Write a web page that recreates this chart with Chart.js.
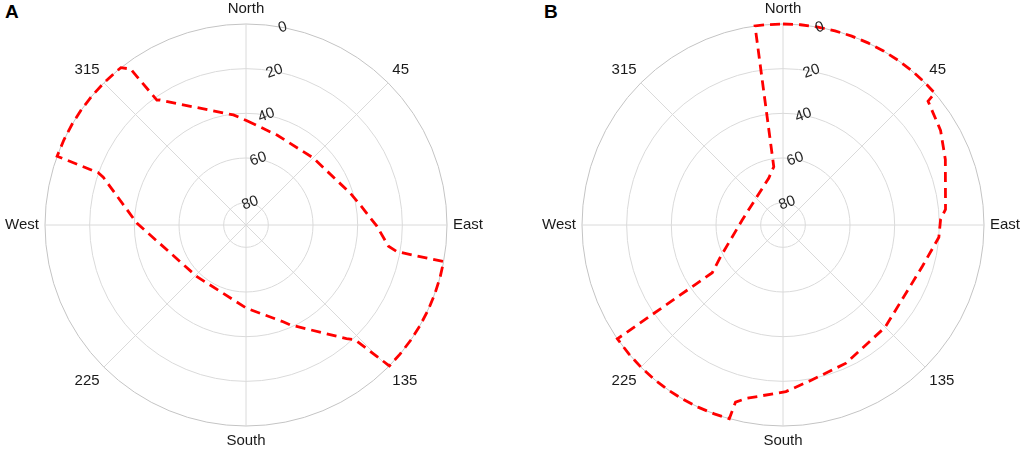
<!DOCTYPE html>
<html>
<head>
<meta charset="utf-8">
<script src="https://cdn.jsdelivr.net/npm/chart.js@4/dist/chart.umd.min.js"></script>
<style>
    html, body { margin: 0; padding: 0; background: #fff; overflow: hidden; }
    body { width: 1024px; height: 451px; position: relative; }
    .panel { position: absolute; top: 0; width: 534px; height: 451px; }
    .tag { position: absolute; top: 1px; font: bold 19px "Liberation Sans", Arial, sans-serif; color: #000; }
</style>
</head>
<body>
<div class="tag" style="left:5px">A</div>
<div class="tag" style="left:544px">B</div>
<div class="panel" style="left:-21px"><canvas id="chartA"></canvas></div>
<div class="panel" style="left:516px"><canvas id="chartB"></canvas></div>
<script>
// compass labels every 45 deg, radial ticks = elevation (0 at rim, 90 at centre)
var compassLabels = ['North', '45', 'East', '135', 'South', '225', 'West', '315'];
var radialTicks = [0, 20, 40, 60, 80];

// panel A: vertices of the dashed mask (azimuth deg, elevation deg)
var azimuthA = [0.5, 19, 45, 73, 80, 90.5, 98.5, 100, 100.5, 105, 110, 115, 120, 125, 130, 134.5,
    136.5, 138.5, 156, 159, 179.5, 223.5, 271, 288.5, 289.5, 290, 295, 300, 305, 310, 315, 320,
    321.5, 323.5, 324.5, 325.5, 336, 353.5];
var elevationA = [43.3, 47.4, 47.5, 41.2, 38.1, 31.4, 25.5, 21.4, 0, 0, 0, 0, 0, 0, 0, 0,
    19.2, 22.1, 41, 43.6, 52.7, 58.1, 41.1, 22.6, 19.8, 0, 0, 0, 0, 0, 0, 0,
    0, 3.1, 21.3, 22.1, 32.1, 40.4];

// panel B
var azimuthB = [0, 5, 10, 15, 20, 25, 30, 35, 40, 45, 49, 49.5, 59, 68, 84.5, 88, 94.5, 106.5,
    135, 155.5, 169.5, 179, 192, 195, 195.5, 200, 205, 210, 215, 220, 225, 230, 235.5, 236,
    243, 277, 343, 351, 352, 355];
var elevationB = [0, 0, 0, 0, 0, 0, 0, 0, 0, 0, 0, 4.6, 7.7, 11.6, 16.9, 19.4, 20, 24.9,
    25.3, 22, 19.4, 15.4, 10.6, 7.9, 0, 0, 0, 0, 0, 0, 0, 0, 0, 51.8,
    58.6, 71.6, 68.1, 63.6, 0, 0];

var STEP = 0.5;
var labels = [];
for (var i = 0; i < 360 / STEP; i++) {
    labels.push(i * STEP);
}

var buildSeries = function (az, el) {
    var data = labels.map(function () { return null; });
    for (var k = 0; k < az.length; k++) {
        data[Math.round(az[k] / STEP) % labels.length] = el[k];
    }
    return data;
};

var fontFamily = '"Liberation Sans", Arial, sans-serif';

var tickLabelPlugin = {
    id: 'tickLabels',
    afterDatasetsDraw: function (chart) {
        var scale = chart.scales.r;
        var ctx = chart.ctx;
        var a = 10.5 * Math.PI / 180;
        ctx.save();
        ctx.font = '15px ' + fontFamily;
        ctx.fillStyle = '#262626';
        ctx.textAlign = 'center';
        ctx.textBaseline = 'middle';
        radialTicks.forEach(function (v) {
            var d = scale.getDistanceFromCenterForValue(v);
            ctx.save();
            ctx.translate(scale.xCenter + d * Math.sin(a), scale.yCenter - d * Math.cos(a));
            ctx.rotate(-20 * Math.PI / 180);
            ctx.fillText(String(v), 0, 0);
            ctx.restore();
        });
        ctx.restore();
    }
};

var createSkyChart = function (id, az, el) {
    new Chart(document.getElementById(id).getContext('2d'), {
        type: 'radar',
        data: {
            labels: labels,
            datasets: [{
                data: buildSeries(az, el),
                borderColor: '#ff0000',
                borderWidth: 2.8,
                borderDash: [10, 6],
                pointRadius: 0,
                pointHoverRadius: 0,
                fill: false,
                spanGaps: true,
                tension: 0
            }]
        },
        options: {
            responsive: true,
            maintainAspectRatio: false,
            animation: false,
            plugins: { legend: { display: false }, tooltip: { enabled: false } },
            scales: {
                r: {
                    min: 0,
                    max: 90,
                    reverse: true,
                    ticks: { display: false, stepSize: 20 },
                    // dummy first tick so the rim circle (value 0) gets drawn too
                    afterBuildTicks: function (scale) {
                        scale.ticks = [90].concat(radialTicks).map(function (v) { return { value: v }; });
                    },
                    grid: {
                        circular: true,
                        lineWidth: 1,
                        color: function (c) { return c.tick && c.tick.value === 0 ? '#c4c4c4' : '#dadada'; }
                    },
                    angleLines: {
                        color: '#dadada',
                        lineWidth: function (c) { return c.index % (45 / STEP) === 0 ? 1 : 0; }
                    },
                    pointLabels: {
                        padding: 6,
                        color: '#1a1a1a',
                        font: { family: fontFamily, size: 15 },
                        callback: function (label, index) {
                            return index % (45 / STEP) === 0 ? compassLabels[index / (45 / STEP)] : '';
                        }
                    }
                }
            }
        },
        plugins: [tickLabelPlugin]
    });
};

createSkyChart('chartA', azimuthA, elevationA);
createSkyChart('chartB', azimuthB, elevationB);
</script>
</body>
</html>
